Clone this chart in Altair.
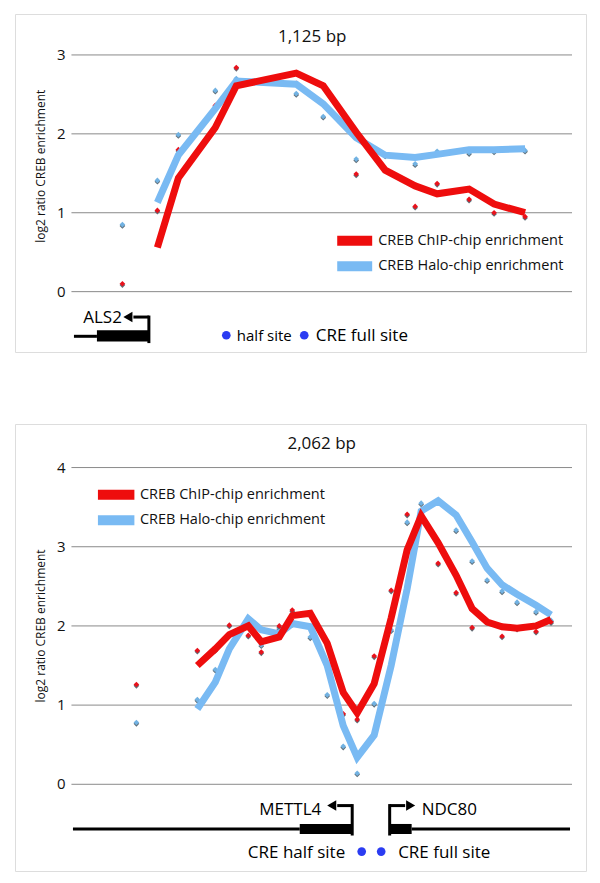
import altair as alt
import pandas as pd

FONT = "Open Sans"
RED = "#ee0d0d"
BLUE = "#79baf3"
DOT_RED = "#e8121c"
DOT_BLUE = "#72b2e2"
SITE = "#2b3cf2"
GRID = "#8a8a8a"

# ---------------- top panel data (ALS2, 1,125 bp) ----------------
top_pos = [102, 172, 214, 288, 330, 450, 504, 570, 628, 688, 732, 796, 846, 908]
top_chip_pts = [0.10, 1.03, 1.80, 2.36, 2.84, 2.64, 2.62, 1.49, 1.55, 1.08, 1.37, 1.17, 1.00, 0.95]
top_halo_pts = [0.85, 1.41, 1.99, 2.55, 2.70, 2.51, 2.22, 1.68, 1.73, 1.62, 1.78, 1.76, 1.78, 1.79]
top_chip_line = [None, 0.56, 1.44, 2.08, 2.61, 2.77, 2.61, 2.02, 1.54, 1.34, 1.24, 1.30, 1.11, 1.00]
top_halo_line = [None, 1.13, 1.73, 2.32, 2.67, 2.63, 2.38, 1.95, 1.73, 1.70, 1.74, 1.80, 1.80, 1.81]
top_ticks = [0, 1, 2, 3]

# ---------------- bottom panel data (METTL4 / NDC80, 2,062 bp) ----------------
bot_pos = [130, 252, 288, 316, 354, 380, 416, 442, 478, 512, 544, 572, 606, 640, 672, 700,
           734, 770, 802, 832, 862, 892, 930, 960]
bot_chip_pts = [1.26, 1.69, 1.70, 2.01, 1.88, 1.67, 2.00, 2.20, 2.16, 1.78, 0.89, 0.82, 1.62,
                2.45, 3.41, 3.35, 2.79, 2.42, 1.98, 2.05, 1.87, 1.97, 1.93, 2.05]
bot_halo_pts = [0.78, 1.07, 1.45, 1.89, 2.09, 1.76, 1.97, 2.03, 1.86, 1.13, 0.48, 0.14, 1.02,
                1.95, 3.31, 3.55, 3.58, 3.21, 2.82, 2.58, 2.44, 2.30, 2.18, 2.07]
bot_chip_line = [None, 1.50, 1.71, 1.89, 2.00, 1.80, 1.86, 2.13, 2.16, 1.78, 1.16, 0.90, 1.27,
                 2.10, 2.96, 3.39, 3.05, 2.64, 2.22, 2.05, 1.99, 1.97, 2.00, 2.08]
bot_halo_line = [None, 0.95, 1.29, 1.71, 2.09, 1.95, 1.90, 2.03, 1.99, 1.50, 0.74, 0.34, 0.62,
                 1.50, 2.47, 3.45, 3.58, 3.40, 3.06, 2.73, 2.52, 2.40, 2.26, 2.14]
bot_ticks = [0, 1, 2, 3, 4]

series_names = ["CREB ChIP-chip enrichment", "CREB Halo-chip enrichment"]
y_title = "log2 ratio CREB enrichment"

X_DOMAIN = [-113, 1030]
GRID_X = [0, 1002]
W = 571


def xs():
    return alt.Scale(domain=X_DOMAIN, nice=False, zero=False)


def panel(pos, chip_pts, halo_pts, chip_line, halo_line, ticks, ydom, height,
          title, title_xy, ytitle_y, legend, gene):
    ysc = alt.Scale(domain=ydom, nice=False, zero=False)

    def X(f):
        return alt.X(f, type="quantitative", scale=xs(), axis=None)

    def Y(f):
        return alt.Y(f, type="quantitative", scale=ysc, axis=None)

    layers = []
    grid = pd.DataFrame({"y": ticks, "x0": GRID_X[0], "x1": GRID_X[1]})
    layers.append(alt.Chart(grid).mark_rule(color=GRID, strokeWidth=1).encode(
        x=X("x0"), x2="x1", y=Y("y")))
    layers.append(alt.Chart(grid.assign(t=[str(t) for t in ticks], xl=-12)).mark_text(
        align="right", baseline="middle", font=FONT, fontSize=15, color="#111").encode(
        x=X("xl"), y=Y("y"), text="t:N"))

    pts = pd.DataFrame({"pos": pos, "chip": chip_pts, "halo": halo_pts})
    for col, colr in (("halo", DOT_BLUE), ("chip", DOT_RED)):
        layers.append(alt.Chart(pts).mark_point(shape="diamond", filled=True, size=32,
                                                opacity=1, color="#5f6e78").encode(
            x=X("pos"), y=Y(col), yOffset=alt.value(1.3)))
        layers.append(alt.Chart(pts).mark_point(shape="diamond", filled=True, size=32,
                                                opacity=1, color=colr).encode(
            x=X("pos"), y=Y(col)))

    for vals, colr in ((halo_line, BLUE), (chip_line, RED)):
        d = pd.DataFrame({"pos": pos, "v": vals}).dropna()
        layers.append(alt.Chart(d).mark_line(color=colr, strokeWidth=7, strokeJoin="miter",
                                             strokeCap="butt").encode(
            x=X("pos"), y=Y("v"), order="pos:Q"))

    # title and y-axis title
    layers.append(alt.Chart(pd.DataFrame({"x": [title_xy[0]], "y": [title_xy[1]], "t": [title]}))
                  .mark_text(font=FONT, fontSize=17, baseline="middle", color="#111")
                  .encode(x=X("x"), y=Y("y"), text="t:N"))
    layers.append(alt.Chart(pd.DataFrame({"x": [-61], "y": [ytitle_y], "t": [y_title]}))
                  .mark_text(font=FONT, fontSize=12, angle=270, baseline="middle", color="#111")
                  .encode(x=X("x"), y=Y("y"), text="t:N"))

    # legend
    lx0, lx1, ltx, ly = legend
    leg = pd.DataFrame({"x0": [lx0, lx0], "x1": [lx1, lx1], "tx": [ltx, ltx],
                        "y": ly, "s": series_names})
    layers.append(alt.Chart(leg).mark_rule(strokeWidth=10, strokeCap="butt").encode(
        x=X("x0"), x2="x1", y=Y("y"),
        color=alt.Color("s:N", scale=alt.Scale(domain=series_names, range=[RED, BLUE]),
                        legend=None)))
    layers.append(alt.Chart(leg).mark_text(align="left", baseline="middle", font=FONT,
                                           fontSize=14.5, color="#111").encode(
        x=X("tx"), y=Y("y"), text="s:N"))

    # gene diagram
    g = gene
    layers.append(alt.Chart(pd.DataFrame(g["thin"], columns=["x0", "x1", "y"]))
                  .mark_rule(color="#000", strokeWidth=3, strokeCap="butt")
                  .encode(x=X("x0"), x2="x1", y=Y("y")))
    layers.append(alt.Chart(pd.DataFrame(g["thick"], columns=["x0", "x1", "y0", "y1"]))
                  .mark_rect(color="#000")
                  .encode(x=X("x0"), x2="x1", y=Y("y0"), y2="y1"))
    layers.append(alt.Chart(pd.DataFrame(g["vert"], columns=["x", "y0", "y1"]))
                  .mark_rule(color="#000", strokeWidth=3, strokeCap="square")
                  .encode(x=X("x"), y=Y("y0"), y2="y1"))
    layers.append(alt.Chart(pd.DataFrame(g["horiz"], columns=["x0", "x1", "y"]))
                  .mark_rule(color="#000", strokeWidth=3, strokeCap="butt")
                  .encode(x=X("x0"), x2="x1", y=Y("y")))
    heads = pd.DataFrame(g["heads"], columns=["x", "y", "shape"])
    layers.append(alt.Chart(heads).mark_point(filled=True, opacity=1, size=110, color="#000")
                  .encode(x=X("x"), y=Y("y"),
                          shape=alt.Shape("shape:N", scale=None, legend=None)))
    sites = pd.DataFrame(g["sites"], columns=["x", "y"])
    layers.append(alt.Chart(sites).mark_circle(size=75, opacity=1, color=SITE)
                  .encode(x=X("x"), y=Y("y")))
    for (tx, ty, txt, al, fs) in g["labels"]:
        layers.append(alt.Chart(pd.DataFrame({"x": [tx], "y": [ty], "t": [txt]}))
                      .mark_text(align=al, baseline="middle", font=FONT, fontSize=fs, color="#000")
                      .encode(x=X("x"), y=Y("y"), text="t:N"))

    return alt.layer(*layers).properties(width=W, height=height)


top_gene = {
    "thin": [(5, 51, -0.566)],
    "thick": [(51, 155, -0.49, -0.633)],
    "vert": [(155, -0.633, -0.322)],
    "horiz": [(155, 124, -0.322)],
    "heads": [(113, -0.322, "triangle-left")],
    "sites": [(310, -0.553), (466, -0.553)],
    "labels": [(101, -0.33, "ALS2", "right", 17),
               (331, -0.56, "half site", "left", 15),
               (489, -0.56, "CRE full site", "left", 17)],
}

bot_gene = {
    "thin": [(3, 457, -0.564), (681, 998, -0.564)],
    "thick": [(457, 562, -0.501, -0.628), (637, 681, -0.501, -0.628)],
    "vert": [(562, -0.628, -0.269), (637, -0.628, -0.269)],
    "horiz": [(562, 532, -0.269), (637, 668, -0.269)],
    "heads": [(521, -0.269, "triangle-left"), (679, -0.269, "triangle-right")],
    "sites": [(581, -0.85), (620, -0.85)],
    "labels": [(500, -0.33, "METTL4", "right", 17),
               (701, -0.33, "NDC80", "left", 17),
               (548, -0.87, "CRE half site", "right", 17),
               (654, -0.87, "CRE full site", "left", 17)],
}

top = panel(top_pos, top_chip_pts, top_halo_pts, top_chip_line, top_halo_line, top_ticks,
            [-0.765, 3.519], 338, "1,125 bp", (482, 3.225), 1.59,
            (532, 602, 614, [0.645, 0.322]), top_gene)
bot = panel(bot_pos, bot_chip_pts, bot_halo_pts, bot_chip_line, bot_halo_line, bot_ticks,
            [-1.095, 4.55], 447, "2,062 bp", (501, 4.30), 2.0,
            (53, 126, 137, [3.655, 3.333]), bot_gene)

chart = alt.vconcat(top, bot, spacing=70).resolve_scale(x="independent", y="independent") \
    .properties(padding={"left": 6, "top": 5, "right": 5, "bottom": 5}) \
    .configure_view(stroke="#1a1a1a", strokeWidth=1.5) \
    .configure(background="white")

chart.save("out.html", embed_options={"renderer": "svg", "actions": False})
